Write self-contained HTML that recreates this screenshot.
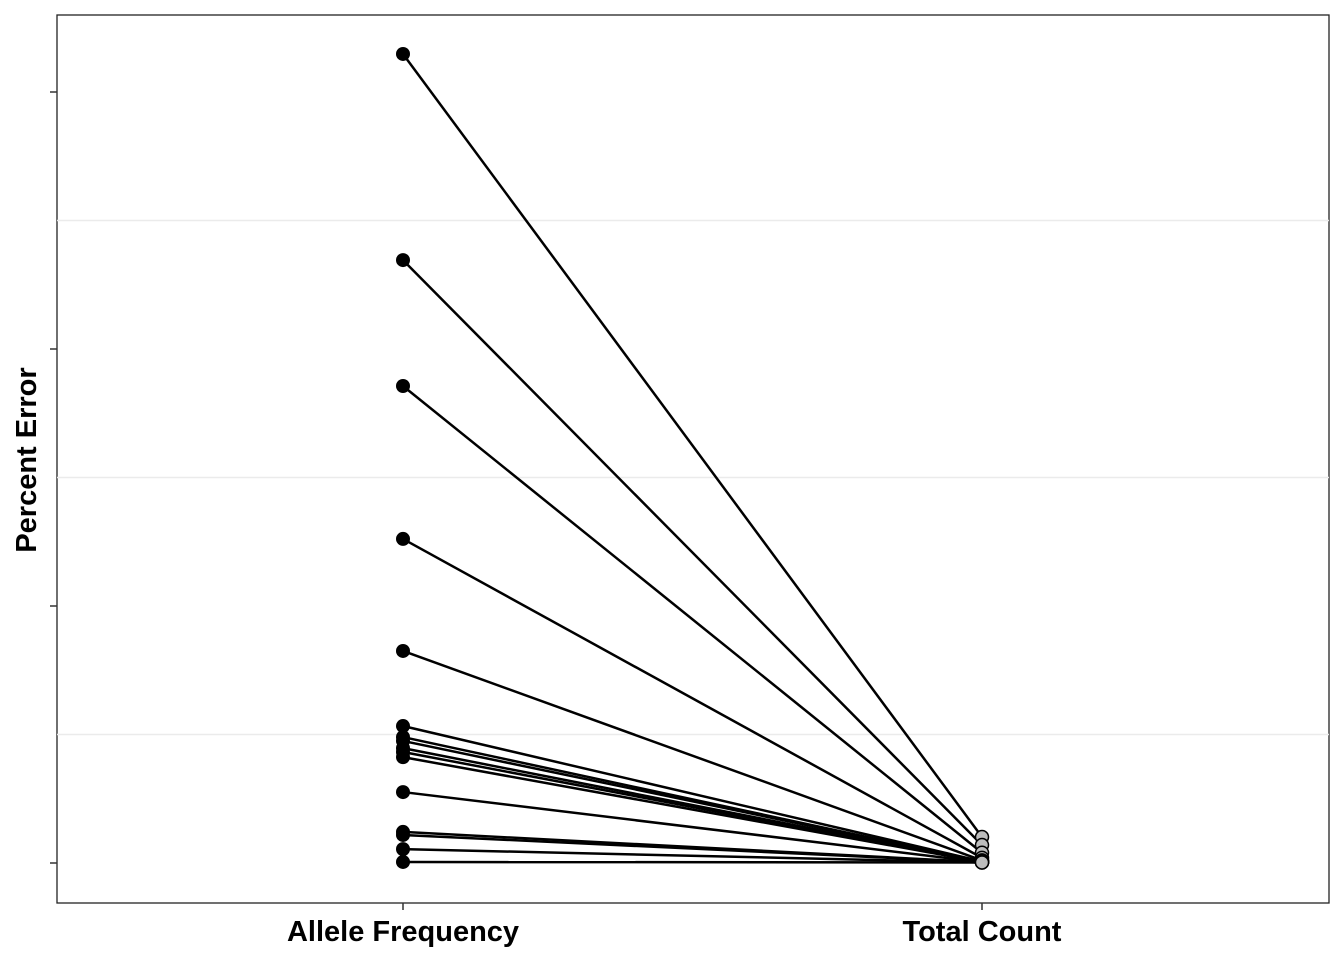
<!DOCTYPE html>
<html><head><meta charset="utf-8"><style>
body{margin:0;background:#fff;font-family:"Liberation Sans",sans-serif}
</style></head><body>
<svg id="chart" width="1344" height="960">
<rect x="57" y="15" width="1272" height="888" fill="#fff" stroke="#222" stroke-width="1.3"/>
<g id="grid"></g><g id="lines"></g><g id="pts"></g><g id="axes"></g>
<text x="403" y="941" text-anchor="middle" font-size="29" font-weight="bold">Allele Frequency</text>
<text x="982" y="941" text-anchor="middle" font-size="29" font-weight="bold">Total Count</text>
<text transform="translate(36,460) rotate(-90)" text-anchor="middle" font-size="29" font-weight="bold">Percent Error</text>
</svg>
<script>
const categories=["Allele Frequency","Total Count"];
const leftValues=[3.148,2.346,1.856,1.261,0.825,0.533,0.49,0.475,0.447,0.432,0.412,0.276,0.121,0.109,0.054,0.004];
const rightValues=[0.101,0.07,0.04,0.02,0.01,0.006,0.005,0.005,0.004,0.004,0.004,0.003,0.003,0.003,0.002,0.002];
const majorTicks=[0,1,2,3];
const minorTicks=[0.5,1.5,2.5];
const ns="http://www.w3.org/2000/svg";
const xPos=i=>403+i*579;
const yPos=v=>863-v*257;
function mk(tag,attrs,parent){const e=document.createElementNS(ns,tag);for(const k in attrs)e.setAttribute(k,attrs[k]);document.getElementById(parent).appendChild(e);return e;}
minorTicks.forEach(t=>{const e=mk('line',{x1:57,x2:1329,y1:yPos(t),y2:yPos(t),stroke:'#ebebeb','stroke-width':1.5},'grid');

});
majorTicks.forEach(t=>{const e=mk('line',{x1:50,x2:57,y1:yPos(t),y2:yPos(t),stroke:'#333','stroke-width':1.5},'axes');

});
categories.forEach((c,i)=>{const e=mk('line',{x1:xPos(i),x2:xPos(i),y1:903,y2:910,stroke:'#333','stroke-width':1.5},'axes');

});
leftValues.forEach((v,i)=>{const e=mk('line',{x1:xPos(0),y1:yPos(v),x2:xPos(1),y2:yPos(rightValues[i]),stroke:'#000','stroke-width':2.5},'lines');

});
rightValues.forEach(v=>{const e=mk('circle',{cx:xPos(1),cy:yPos(v),r:6.5,fill:'#bdbdbd',stroke:'#000','stroke-width':1.5},'pts');

});
leftValues.forEach(v=>{const e=mk('circle',{cx:xPos(0),cy:yPos(v),r:7,fill:'#000'},'pts');

});
</script>
</body></html>
